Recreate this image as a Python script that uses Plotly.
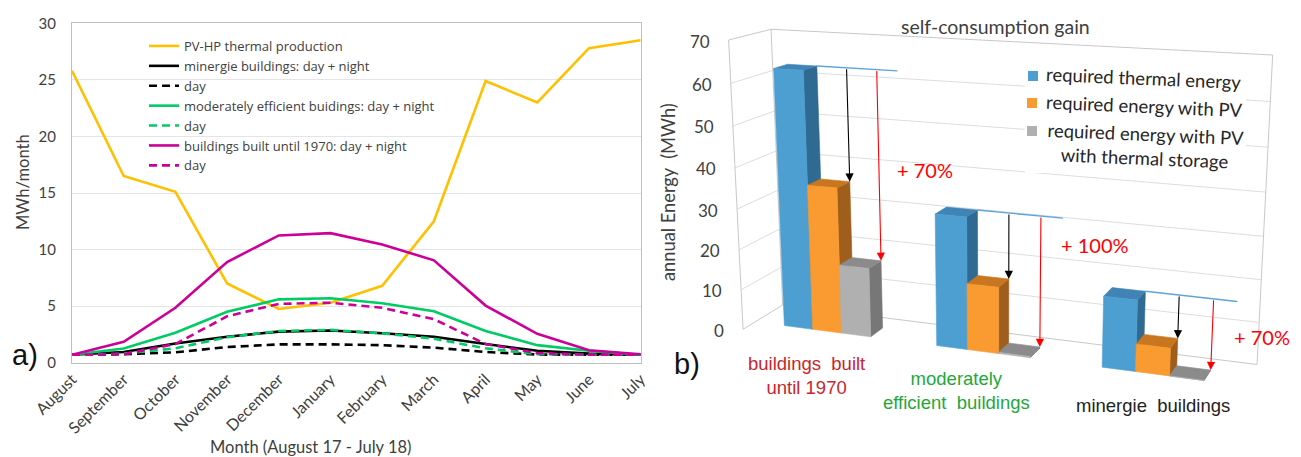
import numpy as np
import plotly.graph_objects as go

W, H = 1301, 457

# ---------------- a) monthly thermal production vs. demand ----------------
months = ["August", "September", "October", "November", "December", "January",
          "February", "March", "April", "May", "June", "July"]
pv_hp_production = [25.8, 16.5, 15.1, 7.0, 4.75, 5.3, 6.8, 12.5, 24.9, 23.0, 27.8, 28.5]
minergie_total = [0.7, 0.95, 1.7, 2.3, 2.75, 2.85, 2.6, 2.3, 1.65, 1.05, 0.8, 0.7]
minergie_day = [0.7, 0.75, 0.92, 1.38, 1.62, 1.62, 1.55, 1.33, 0.95, 0.72, 0.7, 0.7]
moderate_total = [0.7, 1.25, 2.65, 4.5, 5.6, 5.7, 5.25, 4.55, 2.8, 1.55, 1.05, 0.7]
moderate_day = [0.7, 0.8, 1.27, 2.25, 2.8, 2.9, 2.6, 2.12, 1.27, 0.75, 0.7, 0.7]
old_total = [0.7, 1.85, 4.85, 8.9, 11.25, 11.45, 10.45, 9.05, 5.05, 2.55, 1.1, 0.75]
old_day = [0.7, 0.75, 1.65, 4.1, 5.2, 5.3, 4.85, 3.85, 1.65, 0.85, 0.7, 0.7]

# ---------------- b) annual energy per building class ----------------
building_classes = ["buildings  built<br>until 1970", "moderately<br>efficient  buildings",
                    "minergie  buildings"]
class_colors = ["#C8262C", "#22A83A", "#222222"]
thermal_energy = [63.0, 31.8, 16.7]
energy_with_pv = [35.8, 16.0, 6.5]
energy_with_storage = [17.0, 0.3, 0.0]
gain_labels = ["+ 70%", "+ 100%", "+ 70%"]
energy_ticks = [0, 10, 20, 30, 40, 50, 60, 70]
series_names = ["required thermal energy", "required energy with PV",
                "required energy with PV<br>with thermal storage"]

FONT = "Lato"
TXT = "#404040"


def px(x):
    return x / W


def py(y):
    return 1 - y / H


fig = go.Figure()

line_specs = [
    ("PV-HP thermal production", pv_hp_production, "#FFC000", "solid"),
    ("minergie buildings: day + night", minergie_total, "#000000", "solid"),
    ("day", minergie_day, "#000000", "8px,5px"),
    ("moderately efficient buidings: day + night", moderate_total, "#00CC66", "solid"),
    ("day", moderate_day, "#00CC66", "8px,5px"),
    ("buildings built until 1970: day + night", old_total, "#CC0099", "solid"),
    ("day", old_day, "#CC0099", "8px,5px"),
]
xi = list(range(len(months)))
for name, vals, col, dash in line_specs:
    fig.add_trace(go.Scatter(x=xi, y=vals, name=name, mode="lines",
                             line=dict(color=col, width=2.6, dash=dash),
                             xaxis="x", yaxis="y"))

# ---------------- perspective view for the 3-D column chart ----------------
# world: X = category position (0..3), Y = depth (0 front .. 1 back wall), Z = MWh
view_world = np.array([[0, 1, 70], [3, 1, 70], [3, 1, 0], [0, 1, 0],
                       [0, 0, 70], [0, 0, 0]], float)
view_screen = np.array([[770.7, 29.3], [1272.7, 55.0], [1257.0, 364.5], [783.0, 305.0],
                        [729.0, 40.0], [742.7, 329.3]], float)


def fit_view(world, screen):
    wn = np.column_stack([world[:, 0] / 3, world[:, 1], world[:, 2] / 70,
                          np.ones(len(world))])
    sn = (screen - np.array([1000.0, 200.0])) / 250.0
    rows = []
    for p, (u, v) in zip(wn, sn):
        rows.append(np.concatenate([p, np.zeros(4), -u * p]))
        rows.append(np.concatenate([np.zeros(4), p, -v * p]))
    _, _, vt = np.linalg.svd(np.array(rows))
    return vt[-1].reshape(3, 4)


VIEW = fit_view(view_world, view_screen)


def project(X, Y, Z):
    X, Y, Z = np.broadcast_arrays(np.asarray(X, float), np.asarray(Y, float),
                                  np.asarray(Z, float))
    h = VIEW @ np.vstack([X.ravel() / 3, Y.ravel(), Z.ravel() / 70, np.ones(X.size)])
    return h[0] / h[2] * 250 + 1000, h[1] / h[2] * 250 + 200


def add_poly(pts, fill, line=None, width=0.6):
    xs, ys = project([p[0] for p in pts], [p[1] for p in pts], [p[2] for p in pts])
    fig.add_trace(go.Scatter(x=list(xs) + [xs[0]], y=list(ys) + [ys[0]], mode="lines",
                             fill="toself", fillcolor=fill,
                             line=dict(color=line or fill, width=width),
                             hoverinfo="skip", showlegend=False, xaxis="x2", yaxis="y2"))


def add_line3d(pts, color, width=1.0):
    xs, ys = project([p[0] for p in pts], [p[1] for p in pts], [p[2] for p in pts])
    fig.add_trace(go.Scatter(x=xs, y=ys, mode="lines", line=dict(color=color, width=width),
                             hoverinfo="skip", showlegend=False, xaxis="x2", yaxis="y2"))


GRID = "#DDDDDD"
EDGE = "#C8C8C8"
ZMAX = energy_ticks[-1]
NCAT = len(building_classes)

# walls: gridlines
for z in energy_ticks[1:-1]:
    add_line3d([(0, 0, z), (0, 1, z), (NCAT, 1, z)], GRID, 1)
# wall outlines
add_line3d([(0, 0, 0), (0, 0, ZMAX), (0, 1, ZMAX), (NCAT, 1, ZMAX), (NCAT, 1, 0),
            (0, 1, 0), (0, 0, 0)], EDGE, 1)
add_line3d([(0, 1, 0), (0, 1, ZMAX)], EDGE, 1)

# columns
BAR_W = 0.192
OFFSET = 0.2
Y_FRONT, Y_BACK = 0.3, 0.64
palette = [("#4E9FD1", "#2F6A92", "#3F84B5"),
           ("#F99B30", "#A05E1C", "#C8761F"),
           ("#B0B0B0", "#777777", "#8B8B8B")]

for g in range(NCAT):
    vals = [thermal_energy[g], energy_with_pv[g], energy_with_storage[g]]
    for s, v in enumerate(vals):
        x0 = g + OFFSET + s * BAR_W
        x1 = x0 + BAR_W
        front, side, top = palette[s]
        add_poly([(x1, Y_FRONT, 0), (x1, Y_BACK, 0), (x1, Y_BACK, v), (x1, Y_FRONT, v)], side)
        add_poly([(x0, Y_FRONT, v), (x1, Y_FRONT, v), (x1, Y_BACK, v), (x0, Y_BACK, v)], top)
        add_poly([(x0, Y_FRONT, 0), (x1, Y_FRONT, 0), (x1, Y_FRONT, v), (x0, Y_FRONT, v)], front)

annotations = []

# reference line at the thermal demand level and the reduction arrows
for g in range(NCAT):
    xb = g + OFFSET + BAR_W
    xo = g + OFFSET + 2 * BAR_W
    xg = g + OFFSET + 3 * BAR_W
    add_line3d([(xb, Y_BACK, thermal_energy[g]), (xg + 0.13, Y_BACK, thermal_energy[g])],
               "#5DA5D8", 1.4)
    for xa, target, col in [(xo, energy_with_pv[g], "#000000"),
                            (xg, energy_with_storage[g], "#FF0000")]:
        (tx,), (ty,) = project([xa], [Y_BACK], [thermal_energy[g]])
        (hx,), (hy,) = project([xa], [Y_BACK], [target])
        annotations.append(dict(x=hx, y=hy, ax=tx, ay=ty, xref="x2", yref="y2",
                                axref="x2", ayref="y2", text="", showarrow=True,
                                arrowhead=2, arrowsize=1.5, arrowwidth=1.1,
                                arrowcolor=col, standoff=0))

# value axis labels on the left wall
for z in energy_ticks:
    (lx,), (ly,) = project([0], [0], [z])
    annotations.append(dict(x=lx - 17, y=ly + 1, xref="x2", yref="y2", text=str(z),
                            showarrow=False, xanchor="right", yanchor="middle",
                            font=dict(family=FONT, size=17, color=TXT)))

# category labels
cat_pos = [(806, 375), (956, 390), (1153, 405)]
for (cx, cy), lab, col in zip(cat_pos, building_classes, class_colors):
    annotations.append(dict(x=cx, y=cy, xref="x2", yref="y2", text=lab, showarrow=False,
                            xanchor="center", yanchor="middle",
                            font=dict(family="Liberation Sans", size=18.5, color=col)))

# gain labels
gain_pos = [(925, 170), (1095, 245), (1262, 337)]
for (gx, gy), lab in zip(gain_pos, gain_labels):
    annotations.append(dict(x=gx, y=gy, xref="x2", yref="y2", text=lab, showarrow=False,
                            xanchor="center", yanchor="middle",
                            font=dict(family=FONT, size=20, color="#FF0000")))

# key on the back wall
shapes = [dict(type="rect", xref="x2", yref="y2", x0=1025, x1=1246, y0=62, y1=173,
               fillcolor="white", line=dict(width=0), layer="above")]
key_rows = [(1033, 76, 78), (1032, 103, 106), (1032, 131, 146)]
for (kx, ky, ty), name, (front, _, _) in zip(key_rows, series_names, palette):
    shapes.append(dict(type="rect", xref="x2", yref="y2", x0=kx - 5, x1=kx + 5,
                       y0=ky - 5, y1=ky + 5, fillcolor=front, line=dict(width=0)))
    annotations.append(dict(x=1044, y=ty, xref="x2", yref="y2", text=name,
                            showarrow=False, xanchor="left", yanchor="middle",
                            align="center", textangle=2.4,
                            font=dict(family=FONT, size=18.5, color="#262626")))

# titles and panel letters
annotations += [
    dict(x=995, y=26, xref="x2", yref="y2", text="self-consumption gain", showarrow=False,
         xanchor="center", font=dict(family=FONT, size=19.5, color=TXT)),
    dict(x=668, y=192, xref="x2", yref="y2", text="annual Energy  (MWh)", showarrow=False,
         xanchor="center", textangle=-90, font=dict(family=FONT, size=18.3, color=TXT)),
    dict(x=687, y=364, xref="x2", yref="y2", text="b)", showarrow=False,
         xanchor="center", font=dict(family="Liberation Sans", size=29, color="#111111")),
    dict(x=px(310), y=py(447), xref="paper", yref="paper",
         text="Month (August 17 - July 18)", showarrow=False,
         xanchor="center", yanchor="middle",
         font=dict(family=FONT, size=16.5, color=TXT)),
    dict(x=px(23), y=py(182), xref="paper", yref="paper", text="MWh/month",
         showarrow=False, textangle=-90, xanchor="center", yanchor="middle",
         font=dict(family=FONT, size=16.5, color=TXT)),
    dict(x=px(25), y=py(355), xref="paper", yref="paper", text="a)", showarrow=False,
         xanchor="center", yanchor="middle",
         font=dict(family="Liberation Sans", size=29, color="#111111")),
]

fig.update_layout(
    width=W, height=H, margin=dict(l=0, r=0, t=0, b=0, pad=0, autoexpand=False),
    paper_bgcolor="white", plot_bgcolor="white",
    showlegend=True,
    legend=dict(x=px(144), y=py(31), xanchor="left", yanchor="top",
                bgcolor="rgba(0,0,0,0)", tracegroupgap=0,
                font=dict(family="Open Sans", size=13, color=TXT)),
    xaxis=dict(domain=[px(72), px(640.7)], range=[0, 11], tickvals=xi, ticktext=months,
               tickangle=-45, showgrid=False, zeroline=False, showline=True, mirror=True,
               linecolor="#BFBFBF", linewidth=1.3, ticks="", automargin=False,
               tickfont=dict(family=FONT, size=16, color=TXT), anchor="y"),
    yaxis=dict(domain=[py(362.7), py(23.3)], range=[0, 30], tickvals=[0, 5, 10, 15, 20, 25, 30],
               showgrid=True, gridcolor="#E4E4E4", gridwidth=1, zeroline=False,
               showline=True, mirror=True, linecolor="#BFBFBF", linewidth=1.3, ticks="",
               ticklabelstandoff=12, automargin=False,
               tickfont=dict(family=FONT, size=15, color=TXT), anchor="x"),
    xaxis2=dict(domain=[px(650), 1], range=[650, W], visible=False, automargin=False,
                anchor="y2"),
    yaxis2=dict(domain=[0, 1], range=[H, 0], visible=False, automargin=False, anchor="x2"),
    annotations=annotations, shapes=shapes,
)

fig.write_html("out.html")
